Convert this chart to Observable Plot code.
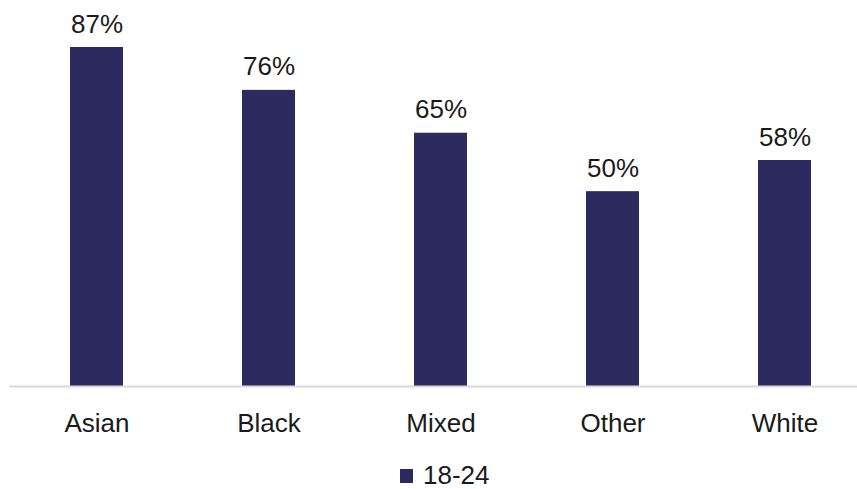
<!DOCTYPE html>
<html>
<head>
<meta charset="utf-8">
<script src="https://cdn.jsdelivr.net/npm/d3@7"></script>
<script src="https://cdn.jsdelivr.net/npm/@observablehq/plot@0.6"></script>
<style>
  html, body { margin: 0; padding: 0; background: #fff; }
  #wrap { position: relative; width: 857px; height: 489px; font-family: "Liberation Sans", Arial, sans-serif; }
  #legend { position: absolute; left: 400px; top: 460px; display: flex; align-items: center; font-size: 26px; color: #1a1a1a; }
  #legend .sw { width: 13px; height: 14px; background: #2d2a5f; margin-right: 10px; }
</style>
</head>
<body>
<div id="wrap"></div>
<script>
const categories = ["Asian", "Black", "Mixed", "Other", "White"];
const values = [87, 76, 65, 50, 58];
const seriesName = "18-24";
const color = "#2d2a5f";

const data = categories.map((c, i) => ({category: c, value: values[i]}));

const chart = Plot.plot({
  width: 857,
  height: 450,
  marginTop: 47,
  marginBottom: 64,
  marginLeft: 9,
  marginRight: 0,
  style: {fontFamily: "Liberation Sans, Arial, sans-serif", fontSize: "26px", color: "#1a1a1a"},
  x: {domain: categories, range: [68, 813], paddingInner: 0.69, paddingOuter: 0, label: null},
  y: {domain: [0, 87], axis: null},
  marks: [
    Plot.barY(data, {x: "category", y: "value", fill: color}),
    Plot.ruleY([0], {stroke: "#d9d9d9", strokeWidth: 2}),
    Plot.text(data, {x: "category", y: "value", text: d => d.value + "%", lineAnchor: "bottom", dy: -15, fontSize: 26, fill: "#1a1a1a"}),
    Plot.axisX({tickSize: 0, tickPadding: 27, fontSize: 26, label: null, fill: "#1a1a1a"})
  ]
});

const wrap = document.getElementById("wrap");
wrap.appendChild(chart);
const legend = document.createElement("div");
legend.id = "legend";
legend.innerHTML = `<div class="sw"></div><span>${seriesName}</span>`;
wrap.appendChild(legend);
</script>
</body>
</html>
